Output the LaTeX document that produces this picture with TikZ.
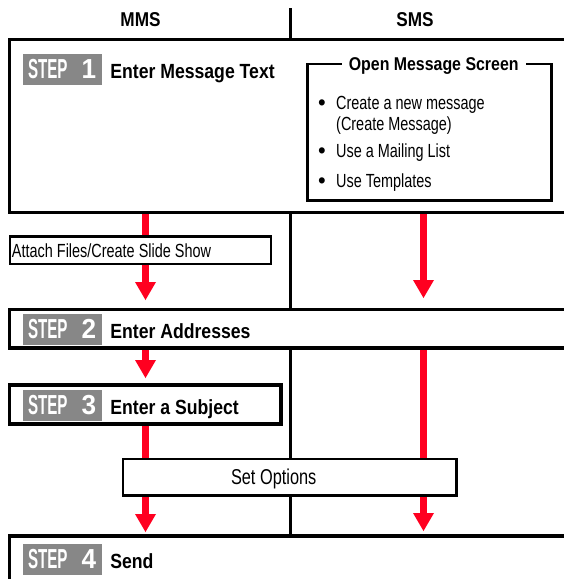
\documentclass[tikz,border=0pt]{standalone}
\usepackage{fontspec}
\setmainfont{Liberation Sans}[FakeStretch=0.76]
\newfontfamily\headfont{Liberation Sans}[FakeStretch=0.86]
\newfontfamily\badgefont{Liberation Sans}[FakeStretch=0.55]
\newfontfamily\digitfont{Liberation Sans}[FakeStretch=0.95]
\usepackage{tikz}
\usetikzlibrary{arrows.meta,positioning}
\definecolor{flowred}{RGB}{255,0,32}
\definecolor{stepgray}{RGB}{135,135,135}
\pgfdeclarelayer{background}
\pgfsetlayers{background,main}
\newcommand{\stepno}[1]{\makebox[69pt]{{\badgefont STEP}\hfill\makebox[16pt]{\digitfont #1}}}
\newcommand{\optitem}[1]{\makebox[18pt][l]{\raisebox{-0.6pt}{\digitfont\fontsize{23}{23}\selectfont\textbullet}}#1}

\begin{document}
\begin{tikzpicture}[x=1pt, y=-1pt,
  stepbox/.style={rectangle, draw, line width=3.2pt, fill=white, anchor=north west,
                  inner sep=0pt, outer sep=0pt},
  subbox/.style={rectangle, draw, line width=2.6pt, fill=white, inner sep=0pt, outer sep=0pt,
                 font=\fontsize{19}{21}\selectfont},
  badge/.style={rectangle, fill=stepgray, text=white, minimum height=31pt, inner xsep=5pt,
                inner ysep=0pt, font=\fontsize{27.5}{28}\selectfont\bfseries},
  steptitle/.style={inner sep=0pt, text height=15pt, text depth=0pt, yshift=-1.5pt,
                    font=\headfont\fontsize{20.5}{22}\selectfont\bfseries},
  header/.style={inner sep=0pt, text height=14.3pt, text depth=0pt,
                 font=\headfont\fontsize{20}{22}\selectfont\bfseries},
  flow/.style={-{Triangle[width=21pt,length=18pt,line width=0pt]}, line width=7pt, draw=flowred},
  divider/.style={line width=3pt}
]
\useasboundingbox (0,0) rectangle (564,579);
\clip (0,0) rectangle (564,579);

\coordinate (mmscol) at (145.5,0);
\coordinate (smscol) at (423.5,0);
\coordinate (divtop) at (290.5,8);

\node[header] (mms) at (140.5,19) {MMS};
\node[header] (sms) at (415,19) {SMS};

\node[stepbox, minimum width=600pt, minimum height=173pt] (step1) at (9.5,39.5) {};
\node[badge] (b1) at (62.5,69.5) {\stepno{1}};
\node[steptitle, right=8pt of b1] (t1) {Enter Message Text};

\node[subbox, anchor=north west, minimum width=244pt, minimum height=136.5pt] (openbox) at (307.5,64) {};
\node[fill=white, inner xsep=7pt, inner ysep=1pt, text height=13.3pt, text depth=0pt,
      font=\headfont\fontsize{18.5}{20}\selectfont\bfseries] (opentitle) at (433.7,64) {Open Message Screen};
\node[anchor=north west, inner sep=0pt, align=left, font=\fontsize{19}{21}\selectfont] (optlist) at (318,96)
  {\optitem{Create a new message}\\\hspace*{18pt}(Create Message)\\[6pt]\optitem{Use a Mailing List}\\[9pt]\optitem{Use Templates}};

\node[subbox, anchor=north west, minimum height=27.5pt, inner xsep=2pt,
      text height=14pt, text depth=0pt] (attach) at (10,236.5) {\makebox[257pt][l]{Attach Files/Create Slide Show}};

\node[stepbox, minimum width=600pt, minimum height=38.5pt] (step2) at (9.5,309.5) {};
\node[badge] (b2) at (62.5,329.5) {\stepno{2}};
\node[steptitle, right=8pt of b2] (t2) {Enter Addresses};

\node[stepbox, minimum width=271.5pt, minimum height=39pt] (step3) at (9.5,385) {};
\node[badge] (b3) at (62.5,405.5) {\stepno{3}};
\node[steptitle, right=8pt of b3] (t3) {Enter a Subject};

\node[subbox, minimum width=333.3pt, minimum height=36.5pt, text height=15pt, text depth=0pt,
      font=\fontsize{21.5}{23}\selectfont] (opts) at (289.7,477.2) {\hspace*{-32pt}Set Options};

\node[stepbox, minimum width=600pt, minimum height=100pt] (step4) at (9.5,536) {};
\node[badge] (b4) at (62.5,559) {\stepno{4}};
\node[steptitle, right=8pt of b4] (t4) {Send};

\begin{pgfonlayer}{background}
\draw[divider] (divtop) -- (divtop |- step4.north);
\draw[flow, shorten >=9.5pt] (step1.south -| mmscol) -- (step2.north -| mmscol);
\draw[flow, shorten >=7pt] (step2.south -| mmscol) -- (step3.north -| mmscol);
\draw[flow, shorten >=4pt] (step3.south -| mmscol) -- (step4.north -| mmscol);
\draw[flow, shorten >=11.5pt] (step1.south -| smscol) -- (step2.north -| smscol);
\draw[flow, shorten >=5pt] (step2.south -| smscol) -- (step4.north -| smscol);
\end{pgfonlayer}
\end{tikzpicture}
\end{document}
